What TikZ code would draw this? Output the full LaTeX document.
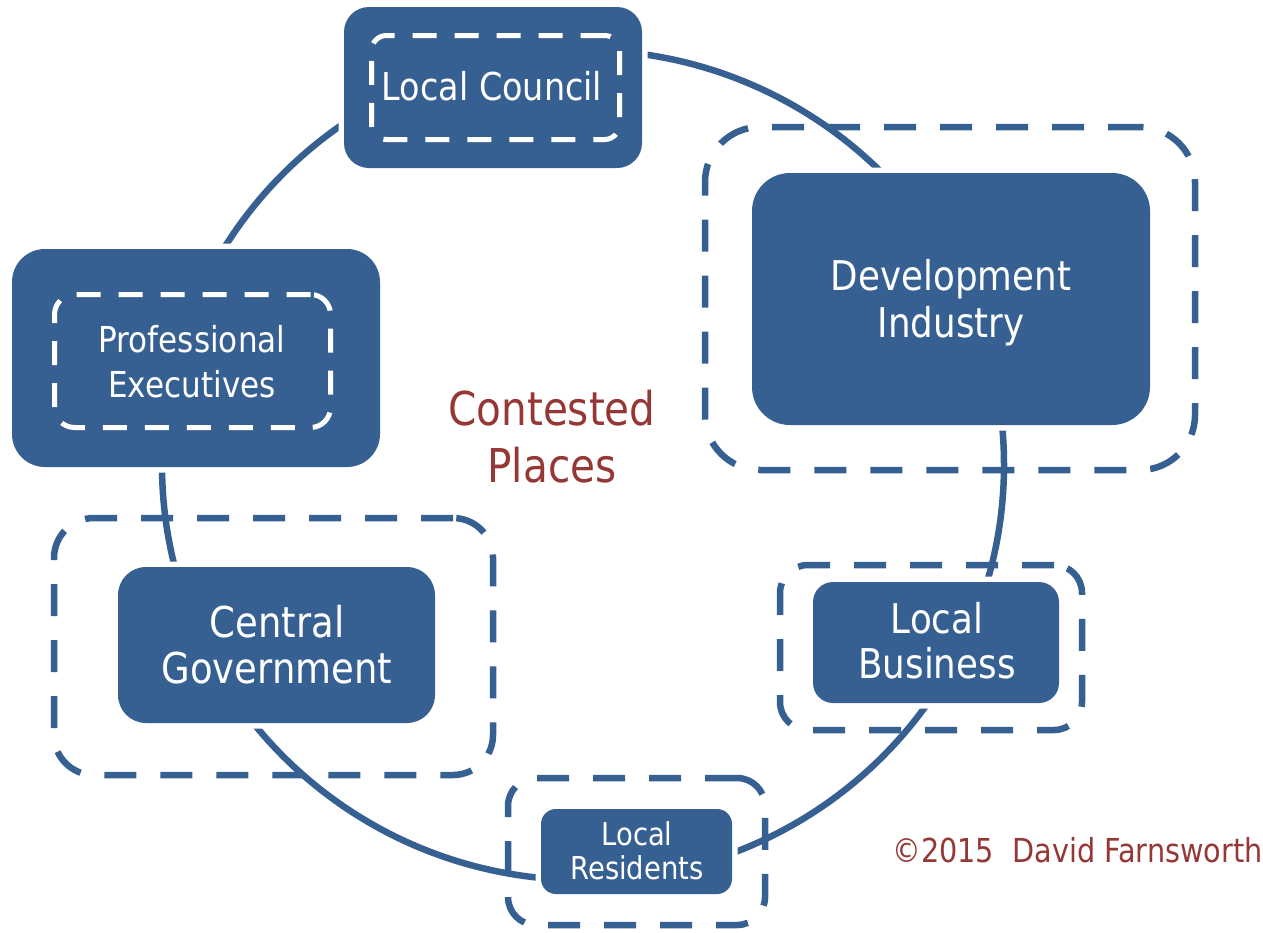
\documentclass[tikz,border=0pt]{standalone}
\usepackage{fontspec}
\setmainfont{DejaVu Sans}[FakeStretch=0.87]
\definecolor{boxblue}{RGB}{55,96,146}
\definecolor{darkred}{RGB}{149,55,53}
\begin{document}
\begin{tikzpicture}[x=1pt,y=-1pt,
  solidbox/.style={rectangle, fill=boxblue, inner sep=0pt, outer sep=0pt,
    preaction={draw=white, line width=11pt}},
  outerdash/.style={rectangle, draw=boxblue, line width=6.5pt, dash pattern=on 32pt off 24pt, inner sep=0pt},
  innerdash/.style={rectangle, draw=white, line width=5pt, dash pattern=on 24pt off 18pt, inner sep=0pt},
  ring/.style={draw=boxblue, line width=6.5pt},
  boxtext/.style={text=white, anchor=base, inner sep=0pt},
  redtext/.style={text=darkred, anchor=base, inner sep=0pt}]
\useasboundingbox (0,0) rectangle (1263,932);
\fill[white] (0,0) rectangle (1263,932);
% ring
\draw[ring] (583,465) ellipse [x radius=421pt, y radius=415pt];
% outer dashed groups
\node[outerdash, rounded corners=55pt, minimum width=490pt, minimum height=343pt] (didash) at (950,298.5) {};
\node[outerdash, rounded corners=28pt, minimum width=302pt, minimum height=165pt] (lbdash) at (931,647.5) {};
\node[outerdash, rounded corners=40pt, minimum width=439pt, minimum height=257pt] (cgdash) at (273.5,646.5) {};
\node[outerdash, rounded corners=28pt, minimum width=257pt, minimum height=147pt] (lrdash) at (636.5,851.5) {};
% solid boxes
\node[solidbox, rounded corners=25pt, minimum width=298pt, minimum height=161pt] (lc) at (493,87.5) {};
\node[solidbox, rounded corners=33pt, minimum width=368pt, minimum height=218pt] (pe) at (196,358) {};
\node[solidbox, rounded corners=38pt, minimum width=398pt, minimum height=252pt] (di) at (951,299) {};
\node[solidbox, rounded corners=20pt, minimum width=246pt, minimum height=121pt] (lb) at (936,642.5) {};
\node[solidbox, rounded corners=28pt, minimum width=317pt, minimum height=156pt] (cg) at (276.5,645) {};
\node[solidbox, rounded corners=15pt, minimum width=191pt, minimum height=85pt] (lr) at (636.5,851.5) {};
% inner white dashed
\node[innerdash, rounded corners=15pt, minimum width=248pt, minimum height=104pt] (lcdash) at (495.5,87.5) {};
\node[innerdash, rounded corners=20pt, minimum width=276pt, minimum height=133pt] (pedash) at (192.5,361) {};
% texts
\node[boxtext, font=\fontsize{38.4}{46}\selectfont] (lct) at (492,100) {Local Council};
\node[boxtext, font=\fontsize{35.7}{45}\selectfont] (pet1) at (192,352) {Professional};
\node[boxtext, font=\fontsize{35.7}{45}\selectfont] (pet2) at (192,397) {Executives};
\node[boxtext, font=\fontsize{41}{47}\selectfont] (dit1) at (951,290) {Development};
\node[boxtext, font=\fontsize{41}{47}\selectfont] (dit2) at (951,337) {Industry};
\node[boxtext, font=\fontsize{41}{45}\selectfont] (lbt1) at (937,633) {Local};
\node[boxtext, font=\fontsize{41}{45}\selectfont] (lbt2) at (937,678) {Business};
\node[boxtext, font=\fontsize{42.5}{46}\selectfont] (cgt1) at (277,637) {Central};
\node[boxtext, font=\fontsize{42.5}{46}\selectfont] (cgt2) at (277,683) {Government};
\node[boxtext, font=\fontsize{31.5}{34}\selectfont] (lrt1) at (637,845) {Local};
\node[boxtext, font=\fontsize{31.5}{34}\selectfont] (lrt2) at (637,879) {Residents};
\node[redtext, font=\fontsize{46.6}{57}\selectfont] (cp1) at (552,425) {Contested};
\node[redtext, font=\fontsize{46.6}{57}\selectfont] (cp2) at (552,482) {Places};
\node[redtext, font=\fontsize{33}{40}\selectfont] (copy) at (1077.5,862) {©2015\ \ David Farnsworth};
\end{tikzpicture}
\end{document}
